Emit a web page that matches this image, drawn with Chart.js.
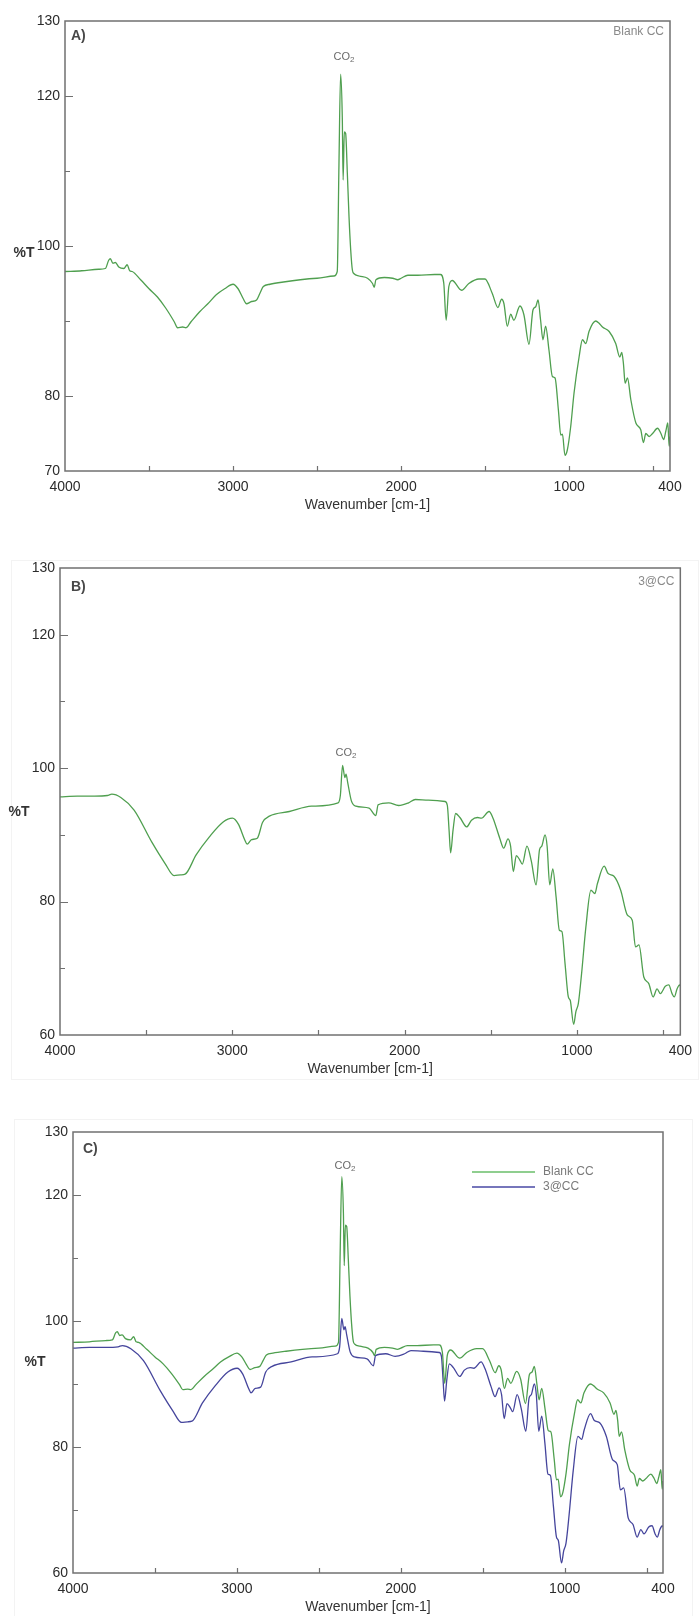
<!DOCTYPE html>
<html>
<head>
<meta charset="utf-8">
<script src="https://cdn.jsdelivr.net/npm/chart.js@4.4.0/dist/chart.umd.min.js"></script>
<style>
  body { margin: 0; background: #fff; }
  #wrap { position: relative; width: 700px; height: 1616px; overflow: hidden; }
  canvas { position: absolute; left: 0; }
  .frame { position: absolute; border: 1px solid #f3f3f3; }
</style>
</head>
<body>
<div id="wrap">
  <div class="frame" style="left:11px;top:560px;width:686px;height:518px"></div>
  <div class="frame" style="left:14px;top:1119px;width:677px;height:520px"></div>
  <canvas id="chartA" style="top:0" width="700" height="520"></canvas>
  <canvas id="chartB" style="top:520px" width="700" height="560"></canvas>
  <canvas id="chartC" style="top:1080px" width="700" height="536"></canvas>
</div>
<script>
// spectrum of Blank CC (wavenumber cm-1, %T)
var blankWn = [4000, 3900, 3800, 3760, 3740, 3730, 3715, 3700, 3680, 3650, 3630, 3615, 3600, 3550, 3500,
  3450, 3400, 3350, 3330, 3300, 3280, 3250, 3200, 3150, 3100, 3050, 3000, 2970, 2940, 2920, 2890,
  2860, 2840, 2820, 2780, 2700, 2600, 2500, 2400, 2380, 2370, 2360, 2350, 2345, 2338, 2330, 2320,
  2310, 2300, 2290, 2280, 2250, 2200, 2170, 2160, 2150, 2100, 2050, 2020, 2000, 1960, 1900, 1800,
  1766, 1746, 1732, 1716, 1696, 1640, 1597, 1537, 1501, 1458, 1424, 1402, 1388, 1368, 1348, 1329,
  1293, 1269, 1239, 1215, 1199, 1185, 1170, 1156, 1140, 1120, 1100, 1084, 1064, 1050, 1040, 1025,
  1011, 991, 971, 941, 921, 901, 882, 842, 822, 802, 762, 723, 699, 687, 677, 667, 653, 633, 603,
  574, 558, 544, 524, 504, 474, 454, 438, 425, 413, 405, 400];
var blankT = [96.6, 96.7, 96.9, 97.0, 98.1, 98.3, 97.7, 97.8, 97.2, 97.0, 97.5, 96.7, 96.6, 95.5, 94.3,
  93.2, 91.7, 89.9, 89.1, 89.2, 89.1, 89.9, 91.2, 92.3, 93.5, 94.3, 94.9, 94.3, 93.0, 92.3, 92.6,
  92.8, 93.7, 94.6, 94.9, 95.2, 95.5, 95.7, 96.0, 96.6, 110.6, 122.9, 117.1, 108.8, 115.2, 115.0, 109.7,
  103.9, 99.5, 96.8, 96.3, 96.0, 95.7, 95.0, 94.5, 95.5, 95.8, 95.7, 95.5, 95.7, 96.1, 96.1, 96.2,
  96.2, 95.0, 90.1, 94.6, 95.4, 94.1, 95.0, 95.6, 95.6, 93.7, 91.8, 92.9, 92.3, 89.3, 90.9, 90.1,
  92.0, 90.8, 86.9, 91.5, 91.9, 92.8, 90.1, 87.5, 89.3, 86.1, 82.6, 82.4, 78.1, 74.8, 74.9, 72.1,
  72.8, 75.9, 80.4, 85.2, 87.5, 87.0, 88.6, 90.0, 89.7, 89.2, 88.6, 87.0, 85.2, 85.8, 84.3, 81.7, 82.4, 79.5, 76.4,
  75.5, 73.8, 75.0, 74.6, 75.0, 75.7, 75.0, 74.2, 75.3, 76.4, 73.3, 74.6];

// spectrum of 3@CC
var cc3Wn = [4000, 3900, 3800, 3725, 3699, 3647, 3570, 3467, 3390, 3338, 3300, 3274, 3210, 3133, 3055,
  2999, 2965, 2927, 2914, 2888, 2855, 2824, 2785, 2669, 2541, 2386, 2373, 2360, 2347, 2340, 2330,
  2309, 2283, 2206, 2167, 2154, 2092, 2035, 1977, 1938, 1862, 1765, 1752, 1742, 1733, 1719, 1704,
  1679, 1640, 1612, 1577, 1554, 1510, 1487, 1448, 1425, 1400, 1385, 1369, 1352, 1333, 1317, 1290,
  1265, 1237, 1217, 1204, 1185, 1173, 1158, 1140, 1121, 1102, 1087, 1069, 1050, 1039, 1019, 1006,
  992, 973, 948, 919, 896, 881, 842, 819, 785, 746, 708, 679, 660, 640, 612, 583, 558, 535, 516,
  487, 467, 448, 435, 419, 404, 400];
var cc3T = [95.7, 95.8, 95.8, 95.9, 96.1, 95.6, 93.7, 88.9, 85.7, 83.9, 84.0, 84.1, 87.0, 89.7, 91.9,
  92.5, 91.6, 89.2, 88.6, 89.3, 89.5, 91.9, 92.8, 93.5, 94.3, 94.8, 95.9, 100.4, 98.6, 99.1, 97.8,
  95.1, 94.3, 94.0, 92.9, 94.5, 94.8, 94.4, 94.8, 95.3, 95.2, 95.0, 94.4, 90.7, 87.3, 90.7, 93.2,
  92.6, 91.2, 92.2, 92.6, 92.5, 93.5, 92.5, 89.5, 88.0, 89.4, 88.3, 84.5, 86.9, 86.3, 85.6, 88.3,
  86.1, 82.5, 87.8, 88.3, 90.0, 88.3, 82.5, 84.9, 80.7, 75.7, 75.5, 70.7, 65.7, 65.2, 61.6, 63.5,
  64.7, 69.2, 76.2, 81.7, 81.2, 82.7, 85.3, 84.2, 83.8, 81.7, 78.0, 77.2, 73.2, 73.5, 68.7, 67.7, 65.7, 66.9, 66.2,
  67.3, 67.5, 66.2, 65.7, 66.9, 67.5, 67.3];

var xLabels = [4000, 3000, 2000, 1000, 400];
var yLabelsA = [130, 120, 100, 80, 70];
var yLabelsBC = [130, 120, 100, 80, 60];

var FONT = '"Liberation Sans", Arial, sans-serif';
var GREEN = '#4f9f4f';
var BLUE = '#45459c';

// frame, inner tick marks and the small texts
var decor = {
  id: 'decor',
  afterDraw: function(chart, args, o) {
    var ctx = chart.ctx, a = chart.chartArea, x = chart.scales.x, y = chart.scales.y;
    ctx.save();
    ctx.strokeStyle = '#707070';
    ctx.lineWidth = 1.5;
    ctx.strokeRect(a.left, a.top, a.right - a.left, a.bottom - a.top);
    ctx.lineWidth = 1.2;
    ctx.beginPath();
    for (var v = y.min + 10; v < y.max; v += 10) {
      var py = Math.round(y.getPixelForValue(v)) + 0.5;
      var len = o.yLabels.indexOf(v) >= 0 ? 8 : 5;
      ctx.moveTo(a.left, py); ctx.lineTo(a.left + len, py);
    }
    for (var w = 500; w < 4000; w += 500) {
      var px = Math.round(x.getPixelForValue(w)) + 0.5;
      ctx.moveTo(px, a.bottom); ctx.lineTo(px, a.bottom - 5);
    }
    ctx.stroke();

    ctx.textBaseline = 'middle';
    ctx.fillStyle = '#333';
    ctx.font = 'bold 14px ' + FONT;
    ctx.textAlign = 'center';
    ctx.fillText('%T', a.left - o.pctDx, y.getPixelForValue(o.pctVal));

    ctx.fillStyle = '#484848';
    ctx.textAlign = 'left';
    ctx.fillText(o.letter, a.left + o.letterDx, a.top + o.letterDy);

    if (o.tag) {
      ctx.font = '12px ' + FONT;
      ctx.fillStyle = '#8a8a8a';
      ctx.textAlign = 'right';
      ctx.fillText(o.tag, a.right - 6, a.top + o.tagDy);
    }

    // CO2 label above the peak
    ctx.fillStyle = '#6a6a6a';
    ctx.textAlign = 'left';
    ctx.font = '11px ' + FONT;
    var w1 = ctx.measureText('CO').width;
    ctx.font = '8px ' + FONT;
    var w2 = ctx.measureText('2').width;
    var cx = x.getPixelForValue(o.co2Wn) - (w1 + w2) / 2, cy = a.top + o.co2Dy;
    ctx.font = '11px ' + FONT;
    ctx.fillText('CO', cx, cy);
    ctx.font = '8px ' + FONT;
    ctx.fillText('2', cx + w1, cy + 3);

    // legend (panel C only)
    if (o.legend) {
      ctx.font = '12px ' + FONT;
      for (var i = 0; i < o.legend.length; i++) {
        var ly = a.top + 40 + i * 15;
        ctx.strokeStyle = o.legend[i].color;
        ctx.lineWidth = 2;
        ctx.beginPath();
        ctx.moveTo(a.right - 191, ly); ctx.lineTo(a.right - 128, ly);
        ctx.stroke();
        ctx.fillStyle = '#7a7a7a';
        ctx.fillText(o.legend[i].text, a.right - 120, ly);
      }
    }
    ctx.restore();
  }
};

function pts(wn, t) {
  return wn.map(function(w, i) { return {x: w, y: t[i]}; });
}

function makePanel(id, p) {
  var datasets = p.series.map(function(s) {
    return {
      label: s.name,
      data: pts(s.wn, s.t),
      borderColor: s.color,
      borderWidth: 1.3,
      pointRadius: 0,
      fill: false,
      cubicInterpolationMode: 'monotone'
    };
  });
  return new Chart(document.getElementById(id), {
    type: 'line',
    data: { datasets: datasets },
    options: {
      responsive: false,
      animation: false,
      devicePixelRatio: 1,
      layout: { padding: { left: 0, right: p.padR, top: p.padT, bottom: 0 } },
      plugins: {
        legend: { display: false },
        tooltip: { enabled: false },
        decor: p.decor
      },
      scales: {
        x: {
          type: 'linear', reverse: true, min: 400, max: 4000,
          grid: { display: false, drawTicks: false },
          border: { display: false },
          afterBuildTicks: function(s) {
            s.ticks = xLabels.map(function(v) { return { value: v }; });
          },
          ticks: {
            autoSkip: false, maxRotation: 0, padding: 8,
            color: '#2b2b2b', font: { size: 14, family: FONT },
            callback: function(v) { return String(v); }
          },
          title: {
            display: true, text: 'Wavenumber [cm-1]', color: '#333',
            font: { size: 14, family: FONT, lineHeight: 1.2 },
            padding: { top: 0, bottom: p.titlePad }
          },
          afterFit: function(s) { s.height = p.xH; }
        },
        y: {
          min: p.yMin, max: 130,
          grid: { display: false, drawTicks: false },
          border: { display: false },
          ticks: {
            stepSize: 10, autoSkip: false, padding: 5,
            color: '#2b2b2b', font: { size: 14, family: FONT },
            callback: function(v) { return p.decor.yLabels.indexOf(v) >= 0 ? String(v) : ''; }
          },
          afterFit: function(s) { s.width = p.yW; }
        }
      }
    },
    plugins: [decor]
  });
}

makePanel('chartA', {
  series: [{ name: 'Blank CC', wn: blankWn, t: blankT, color: GREEN }],
  yMin: 70, padR: 30, padT: 21, yW: 65, xH: 49, titlePad: 6,
  decor: { yLabels: yLabelsA, letter: 'A)', letterDx: 6, letterDy: 15, tag: 'Blank CC', tagDy: 11,
           pctDx: 41, pctVal: 99, co2Wn: 2340, co2Dy: 36 }
});

makePanel('chartB', {
  series: [{ name: '3@CC', wn: cc3Wn, t: cc3T, color: GREEN }],
  yMin: 60, padR: 16, padT: 48, yW: 60, xH: 45, titlePad: 2,
  decor: { yLabels: yLabelsBC, letter: 'B)', letterDx: 11, letterDy: 19, tag: '3@CC', tagDy: 14,
           pctDx: 41, pctVal: 93.4, co2Wn: 2340, co2Dy: 185 }
});

makePanel('chartC', {
  series: [
    { name: 'Blank CC', wn: blankWn, t: blankT, color: GREEN },
    { name: '3@CC', wn: cc3Wn, t: cc3T, color: BLUE }
  ],
  yMin: 60, padR: 37, padT: 52, yW: 73, xH: 43, titlePad: 0,
  decor: { yLabels: yLabelsBC, letter: 'C)', letterDx: 10, letterDy: 17, tag: '',
           pctDx: 38, pctVal: 93.5, co2Wn: 2340, co2Dy: 34,
           legend: [{ text: 'Blank CC', color: '#8fce8f' }, { text: '3@CC', color: '#7676bb' }] }
});
</script>
</body>
</html>
